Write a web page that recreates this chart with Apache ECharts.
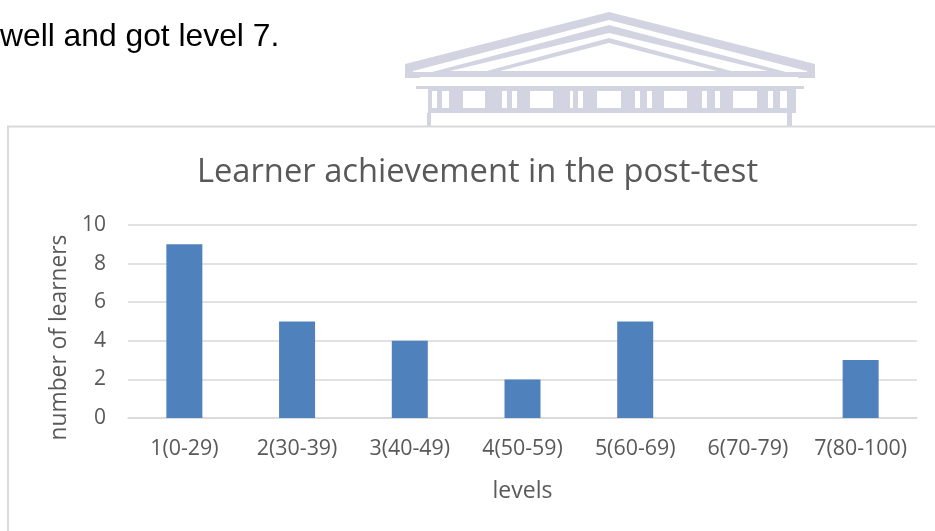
<!DOCTYPE html>
<html>
<head>
<meta charset="utf-8">
<style>
  html, body { margin: 0; padding: 0; background: #fff; }
  #chart { width: 935px; height: 531px; }
</style>
</head>
<body>
<div id="chart"></div>
<script src="https://cdn.jsdelivr.net/npm/echarts@6/dist/echarts.min.js"></script>
<script>
const categories = ['1(0-29)', '2(30-39)', '3(40-49)', '4(50-59)', '5(60-69)', '6(70-79)', '7(80-100)']
const learners = [9, 5, 4, 2, 5, 0, 3]
const titleText = 'Learner achievement in the post-test'
const bodyText = 'well and got level 7.'

const textColor = '#595959'
const frameColor = '#d9d9d9'
const markColor = '#d2d5e1'
const font = '"Open Sans"'

// faint building watermark behind the chart, page decoration only
const tri = (ax, ay, l, r, by, fill) => ({
  type: 'polygon',
  silent: true,
  z: -1,
  shape: { points: [[l, by], [ax, ay], [r, by]] },
  style: { fill }
})
const box = (x, y, width, height, fill) => ({
  type: 'rect',
  silent: true,
  z: -1,
  shape: { x, y, width, height },
  style: { fill }
})
const watermark = [
  tri(609, 12, 405, 815, 64, markColor),
  box(405, 64, 410, 14, markColor),
  tri(609, 20, 413, 807, 71, '#ffffff'),
  box(413, 71, 394, 1, '#ffffff'),
  tri(609, 25, 432, 786, 72, markColor),
  tri(609, 33, 450, 768, 71, '#ffffff'),
  tri(609, 38, 483, 735, 72, markColor),
  tri(609, 43, 500, 717, 71, '#ffffff'),
  box(420, 77, 378, 9, '#ffffff'),
  box(416, 86, 388, 3, markColor),
  box(428, 86, 368, 27, markColor),
  box(427, 113, 4, 13, markColor),
  box(787, 113, 5, 13, markColor)
]
// window openings in the frieze
const windowX = [[432, 5], [442, 7], [463, 22], [502, 5], [512, 5], [530, 23], [570, 3], [578, 5], [597, 24], [635, 5], [647, 5], [664, 23], [702, 5], [715, 5], [733, 24], [768, 5], [780, 7]]
windowX.forEach(([x, w]) => watermark.push(box(x, 91, w, 17, '#ffffff')))

const myChart = echarts.init(document.getElementById('chart'))
myChart.setOption({
  animation: false,
  backgroundColor: '#ffffff',
  title: {
    text: titleText,
    left: 472.5,
    top: 151,
    textAlign: 'center',
    textStyle: { color: textColor, fontFamily: font, fontSize: 32.7, fontWeight: 'normal' }
  },
  grid: { left: 128, right: 18, top: 225, bottom: 113 },
  xAxis: {
    type: 'category',
    data: categories,
    name: 'levels',
    nameLocation: 'middle',
    nameGap: 62,
    nameTextStyle: { color: textColor, fontFamily: font, fontSize: 23 },
    axisLine: { lineStyle: { color: frameColor, width: 1.5 } },
    axisTick: { show: false },
    axisLabel: { color: textColor, fontFamily: font, fontSize: 21.4, margin: 20, interval: 0 }
  },
  yAxis: {
    type: 'value',
    min: 0,
    max: 10,
    interval: 2,
    name: 'number of learners',
    nameLocation: 'middle',
    nameGap: 57,
    nameTextStyle: { color: textColor, fontFamily: font, fontSize: 22.8, padding: [0, 32, 0, 0] },
    axisLine: { show: false },
    axisTick: { show: false },
    axisLabel: { color: textColor, fontFamily: font, fontSize: 21, margin: 22 },
    splitLine: { lineStyle: { color: frameColor, width: 1.5 } }
  },
  series: [
    {
      name: 'learners',
      type: 'bar',
      data: learners,
      barWidth: 36,
      itemStyle: { color: '#4f81bd' }
    }
  ],
  graphic: [
    ...watermark,
    {
      type: 'text',
      silent: true,
      left: 0,
      top: 21,
      style: { text: bodyText, fill: '#000000', font: '31.8px "Liberation Sans"' }
    },
    {
      type: 'polyline',
      silent: true,
      shape: { points: [[8, 531], [8, 126.5], [935, 126.5]] },
      style: { stroke: frameColor, lineWidth: 2, fill: 'none' }
    }
  ]
})
</script>
</body>
</html>
